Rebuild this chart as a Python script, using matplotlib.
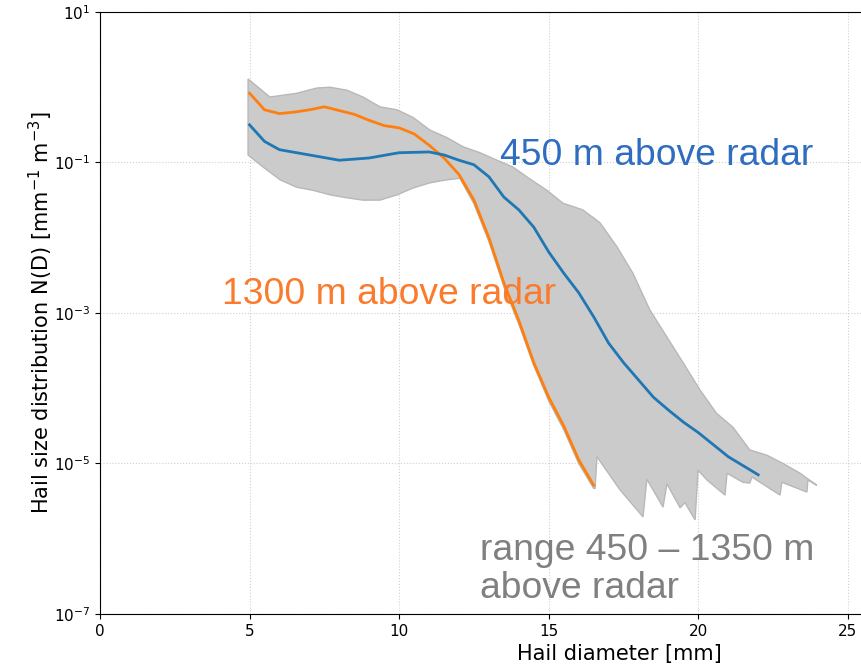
import numpy as np
import matplotlib
matplotlib.use("Agg")
import matplotlib.pyplot as plt

# hail size distributions (log10 of N(D))
d_450 = [5.0, 5.5, 6.0, 7.0, 8.0, 9.0, 10.0, 11.0, 11.5, 12.0, 12.5, 13.0, 13.5, 14.0,
         14.5, 15.0, 15.5, 16.0, 16.5, 17.0, 17.5, 18.0, 18.5, 19.0, 19.5, 20.0, 20.5,
         21.0, 21.5, 22.0]
log_450 = [-0.50, -0.72, -0.83, -0.90, -0.97, -0.94, -0.87, -0.86, -0.90, -0.97, -1.03,
           -1.19, -1.46, -1.63, -1.86, -2.19, -2.47, -2.73, -3.05, -3.40, -3.66, -3.89,
           -4.12, -4.29, -4.45, -4.59, -4.75, -4.91, -5.03, -5.15]

d_1300 = [5.0, 5.5, 6.0, 6.5, 7.0, 7.5, 8.0, 8.5, 9.0, 9.5, 10.0, 10.5, 11.0, 11.5,
          12.0, 12.5, 13.0, 13.5, 14.0, 14.5, 15.0, 15.5, 16.0, 16.5]
log_1300 = [-0.08, -0.30, -0.35, -0.33, -0.30, -0.26, -0.31, -0.36, -0.44, -0.51, -0.54,
            -0.62, -0.77, -0.94, -1.16, -1.50, -2.00, -2.60, -3.10, -3.66, -4.12, -4.50,
            -4.95, -5.29]

# envelope of all heights 450 - 1350 m
up_d = [4.95, 5.68, 6.58, 7.25, 7.69, 8.26, 8.79, 9.36, 9.93, 10.46, 11.03, 11.6, 12.13,
        12.7, 13.27, 13.8, 14.3, 14.94, 15.47, 16.14, 16.71, 17.28, 17.81, 18.38, 18.95,
        19.49, 20.05, 20.6, 21.16, 21.72, 22.29, 22.83, 23.4, 23.96]
up_log = [0.11, -0.13, -0.08, -0.01, 0.0, -0.04, -0.13, -0.26, -0.30, -0.40, -0.57, -0.67,
          -0.79, -0.87, -0.97, -1.06, -1.20, -1.37, -1.54, -1.63, -1.80, -2.12, -2.47,
          -2.96, -3.32, -3.66, -4.02, -4.33, -4.52, -4.82, -4.89, -5.00, -5.13, -5.29]

lo_d = [4.95, 5.45, 6.02, 6.58, 7.12, 7.69, 8.26, 8.79, 9.36, 9.93, 10.46, 11.03, 11.6,
        12.03, 12.5, 13.0, 13.5, 14.0, 14.5, 15.0, 15.5, 16.0, 16.5, 16.55, 16.61, 17.38,
        18.15, 18.28, 18.82, 18.95, 19.39, 19.55, 19.89, 19.99, 20.29, 20.89, 20.96, 21.49,
        21.72, 21.79, 22.73, 22.79, 23.63, 23.66, 23.96]
lo_log = [-0.90, -1.06, -1.23, -1.33, -1.37, -1.43, -1.47, -1.50, -1.50, -1.43, -1.34,
          -1.27, -1.23, -1.21, -1.55, -2.05, -2.65, -3.15, -3.70, -4.17, -4.55, -5.00,
          -5.33, -5.33, -4.91, -5.35, -5.71, -5.21, -5.58, -5.27, -5.59, -5.52, -5.75,
          -5.09, -5.22, -5.42, -5.13, -5.25, -5.26, -5.18, -5.42, -5.25, -5.38, -5.22,
          -5.29]

fig = plt.figure(figsize=(8.61, 6.70), dpi=100)
ax = fig.add_axes([0.1161, 0.0836, 0.9035, 0.8985])

band_x = np.concatenate([up_d, lo_d[::-1]])
band_y = 10 ** np.concatenate([up_log, lo_log[::-1]])
ax.fill(band_x, band_y, facecolor='#cbcbcb', edgecolor='#b8b8b8', linewidth=1.0, zorder=2)

ax.plot(d_1300, 10 ** np.array(log_1300), color='#ff7f0e', linewidth=2, zorder=3)
ax.plot(d_450, 10 ** np.array(log_450), color='#1f77b4', linewidth=2, zorder=3)

ax.set_yscale('log')
ax.set_xlim(0, 26)
ax.set_ylim(1e-7, 1e1)
ax.set_yticks([1e1, 1e-1, 1e-3, 1e-5, 1e-7])
ax.yaxis.set_minor_locator(matplotlib.ticker.NullLocator())
ax.set_xticks([0, 5, 10, 15, 20, 25])
ax.tick_params(labelsize=11)
ax.grid(True, linestyle=':', color='#d0d0d0', linewidth=0.8, zorder=0)
ax.set_axisbelow(True)
ax.spines['right'].set_visible(False)

# the original figure was cropped on the right, so the x label sits off-centre
ax.set_xlabel('Hail diameter [mm]', fontsize=15, labelpad=4, x=0.668)
ax.set_ylabel('Hail size distribution N(D) [mm$^{-1}$ m$^{-3}$]', fontsize=15, labelpad=-1)

txt = dict(family='Liberation Sans', fontsize=26.8, va='baseline', ha='left', zorder=4)
ax.text(13.37, 10 ** -1.03, '450 m above radar', color='#2e6dbf', **txt)
ax.text(4.08, 10 ** -2.88, '1300 m above radar', color='#f97b2b', **txt)
ax.text(12.7, 10 ** -6.28, 'range 450 – 1350 m', color='#808080', **txt)
ax.text(12.7, 10 ** -6.79, 'above radar', color='#808080', **txt)

fig.savefig('out.png', dpi=100)
